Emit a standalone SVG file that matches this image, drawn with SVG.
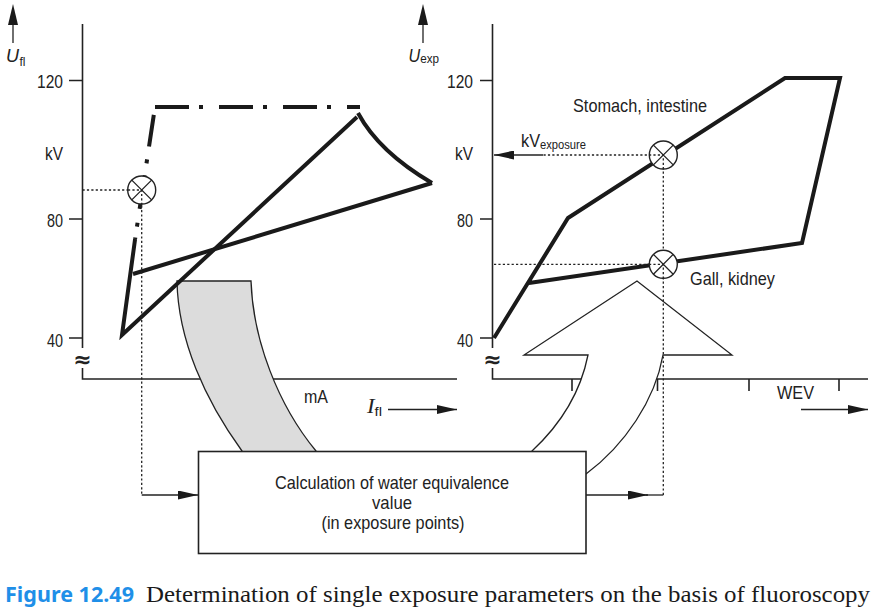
<svg xmlns="http://www.w3.org/2000/svg" width="888" height="613" viewBox="0 0 888 613">
<style>
.ax{stroke:#222;stroke-width:1.6;fill:none}
.thick{stroke:#1a1a1a;stroke-width:4;fill:none;stroke-linejoin:miter;stroke-linecap:butt}
.dot{stroke:#222;stroke-width:1.3;fill:none;stroke-dasharray:2.2 2.2}
.thin{stroke:#222;stroke-width:1.3}
.circ{fill:#fff;stroke:#222;stroke-width:1.4}
.t{font-family:"Liberation Sans Narrow","Liberation Sans",Arial,sans-serif;font-size:19px;fill:#222}
.sub{font-family:"Liberation Sans Narrow","Liberation Sans",Arial,sans-serif;font-size:13px;fill:#222;font-style:normal}
.ui{font-family:"Liberation Sans",Arial,sans-serif;font-style:italic;font-size:18px;fill:#222}
.apx{font-family:"DejaVu Sans",sans-serif;font-size:22px;font-weight:bold;fill:#222}
.head{fill:#1a1a1a}
</style>
<defs>
<marker id="ah" markerUnits="userSpaceOnUse" markerWidth="20" markerHeight="9" refX="20" refY="4.5" orient="auto">
<path d="M0,0 L20,4.5 L0,9 Z" fill="#1a1a1a"/>
</marker>
</defs>

<g id="axes-left">
<line class="thin" x1="13" y1="43" x2="13" y2="20" stroke-width="1.6"/>
<path class="head" d="M13,4 L18,25 L8,25 Z"/>
<path class="ax" d="M82.5,24 V348 M82.5,368 V379 H457"/>
<path class="ax" d="M69,80.5 H82.5 M69,219 H82.5 M69,338 H82.5"/>
<text class="apx" x="82.5" y="367" text-anchor="middle">≈</text>
</g>

<g id="axes-right">
<line class="thin" x1="423" y1="43" x2="423" y2="20" stroke-width="1.6"/>
<path class="head" d="M423,4 L428,25 L418,25 Z"/>
<path class="ax" d="M492.5,24 V348 M492.5,368 V379 H868"/>
<path class="ax" d="M480,80.5 H492.5 M480,219 H492.5 M480,338 H492.5"/>
<path class="ax" d="M572,379 V391 M657.5,379 V391 M749,379 V391 M839,379 V391"/>
<text class="apx" x="492.5" y="367" text-anchor="middle">≈</text>
</g>

<g id="arrow-gray">
<path d="M177,281 H251 C253,340 278,405 316,451 L316,462 L242,462 L242,451 C205,400 178,340 177,281 Z" fill="#dcdcdc" stroke="#222" stroke-width="1.3"/>
</g>

<g id="arrow-white">
<path d="M532,451 C560,425 580,395 588,355 H524 L637,281 L732,355 H663 C655,400 625,445 586,474 L578,482 L532,482 Z" fill="#fff" stroke="#222" stroke-width="1.3"/>
</g>

<g id="curves-left">
<path class="thick" d="M155,107 H360" style="stroke-dasharray:34 10 4 16"/>
<path class="thick" d="M155,107 L135.1,239" style="stroke-dasharray:0 8 32 13 4 12 34 14 4 11 100"/>
<path class="thick" d="M357,117 L122,335 L135.1,239"/>
<path class="thick" d="M133,274 L432,183"/>
<path class="thick" d="M358,113 Q379,152 432,183"/>
</g>

<g id="curves-right">
<path class="thick" d="M494,338 L568,218 L785,78 L840,78 L802,243 L529,283"/>
</g>

<g id="connectors">
<path class="dot" d="M82.5,190 H141.7 V495"/>
<line class="thin" x1="141.7" y1="495" x2="198" y2="495" stroke-width="1.5" marker-end="url(#ah)"/>
<line class="thin" x1="586" y1="495" x2="648" y2="495" stroke-width="1.5" marker-end="url(#ah)"/>
<line class="thin" x1="646" y1="495" x2="663.3" y2="495" stroke-width="1.5"/>
<path class="dot" d="M663.3,495 V155 H543"/>
<line class="thin" x1="543" y1="155" x2="494" y2="155" stroke-width="1.5" marker-end="url(#ah)"/>
<path class="dot" d="M494,264.3 H663.3"/>
<line class="thin" x1="388" y1="409.5" x2="457" y2="409.5" stroke-width="1.5" marker-end="url(#ah)"/>
<line class="thin" x1="801" y1="409.5" x2="868" y2="409.5" stroke-width="1.5" marker-end="url(#ah)"/>
</g>

<g id="marker-left">
<circle class="circ" cx="141.7" cy="190" r="14"/>
<path class="dot" d="M128,190 H141.7 V204"/>
<path class="thin" d="M131.8,180.1 L151.6,199.9 M151.6,180.1 L131.8,199.9"/>
</g>
<g id="marker-stomach">
<circle class="circ" cx="663.3" cy="155" r="14"/>
<path class="dot" d="M649,155 H663.3 V169"/>
<path class="thin" d="M653.4,145.1 L673.2,164.9 M673.2,145.1 L653.4,164.9"/>
</g>
<g id="marker-gall">
<circle class="circ" cx="663.3" cy="264.3" r="14"/>
<path class="dot" d="M649,264.3 H663.3 V279"/>
<path class="thin" d="M653.4,254.4 L673.2,274.2 M673.2,254.4 L653.4,274.2"/>
</g>

<g id="box">
<rect x="198.5" y="451.5" width="387.5" height="102" fill="#fff" stroke="#222" stroke-width="1.6"/>
<text class="t" x="392" y="488.5" text-anchor="middle" textLength="234" lengthAdjust="spacingAndGlyphs">Calculation of water equivalence</text>
<text class="t" x="392" y="508.5" text-anchor="middle" textLength="40" lengthAdjust="spacingAndGlyphs">value</text>
<text class="t" x="393" y="528.5" text-anchor="middle" textLength="143" lengthAdjust="spacingAndGlyphs">(in exposure points)</text>
</g>

<g id="labels-left">
<text class="ui" x="6" y="62">U<tspan class="sub" dx="0.5" dy="3.5" style="font-size:12px">fl</tspan></text>
<text class="t" x="63" y="88" text-anchor="end" textLength="26" lengthAdjust="spacingAndGlyphs">120</text>
<text class="t" x="63" y="159.5" text-anchor="end" textLength="18" lengthAdjust="spacingAndGlyphs">kV</text>
<text class="t" x="63" y="227" text-anchor="end" textLength="16" lengthAdjust="spacingAndGlyphs">80</text>
<text class="t" x="63" y="346.5" text-anchor="end" textLength="16" lengthAdjust="spacingAndGlyphs">40</text>
<text class="t" x="304" y="403" textLength="24" lengthAdjust="spacingAndGlyphs">mA</text>
<text x="367" y="413" font-family="'Liberation Serif',serif" font-style="italic" font-size="20" fill="#222" textLength="15" lengthAdjust="spacingAndGlyphs">I<tspan class="sub" dy="3">fl</tspan></text>
</g>

<g id="labels-right">
<text class="ui" x="408.5" y="62" textLength="30.5" lengthAdjust="spacingAndGlyphs">U<tspan class="sub" dy="1">exp</tspan></text>
<text class="t" x="473" y="88" text-anchor="end" textLength="26" lengthAdjust="spacingAndGlyphs">120</text>
<text class="t" x="473" y="159.5" text-anchor="end" textLength="18" lengthAdjust="spacingAndGlyphs">kV</text>
<text class="t" x="473" y="227" text-anchor="end" textLength="16" lengthAdjust="spacingAndGlyphs">80</text>
<text class="t" x="473" y="346.5" text-anchor="end" textLength="16" lengthAdjust="spacingAndGlyphs">40</text>
<text class="t" x="521" y="146.5" textLength="65" lengthAdjust="spacingAndGlyphs">kV<tspan class="sub" dy="2">exposure</tspan></text>
<text class="t" x="573" y="112" textLength="134" lengthAdjust="spacingAndGlyphs">Stomach, intestine</text>
<text class="t" x="690" y="285" textLength="85" lengthAdjust="spacingAndGlyphs">Gall, kidney</text>
<text class="t" x="777" y="399" textLength="37" lengthAdjust="spacingAndGlyphs">WEV</text>
</g>

<g id="caption">
<text x="5" y="602" font-family="'Noto Sans','Liberation Sans',sans-serif" font-weight="bold" font-size="22" fill="#1f8fe8" textLength="129" lengthAdjust="spacingAndGlyphs">Figure 12.49</text>
<text x="146" y="602" font-family="'Liberation Serif','DejaVu Serif',serif" font-size="24" fill="#1a1a1a" textLength="724" lengthAdjust="spacingAndGlyphs">Determination of single exposure parameters on the basis of fluoroscopy</text>
</g>
</svg>
